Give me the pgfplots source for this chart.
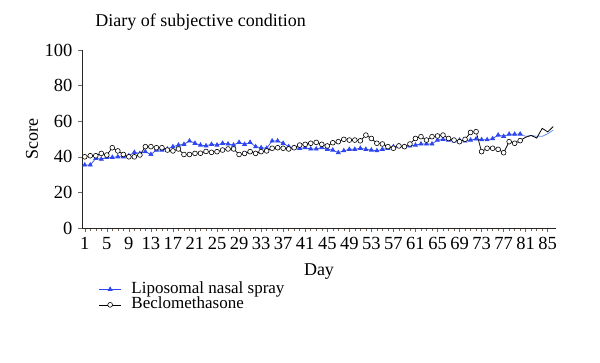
\documentclass[border=0pt]{standalone}
\usepackage{fontspec}
\setmainfont{Liberation Serif}
\usepackage{pgfplots}
\usepackage{pgfplotstable}
\pgfplotsset{compat=1.18}
\definecolor{lblue}{RGB}{45,70,240}
\definecolor{lblueline}{RGB}{100,140,235}
\definecolor{tickc}{RGB}{120,100,80}

\pgfplotstableread{
day val
1 35.4
2 35.4
3 39.1
4 38.7
5 39.7
6 39.7
7 40.0
8 40.0
9 40.6
10 42.5
11 41.9
12 42.9
13 41.3
14 43.8
15 43.8
16 44.4
17 45.7
18 46.6
19 47.0
20 48.9
21 47.6
22 46.6
23 46.2
24 47.0
25 46.6
26 47.6
27 47.2
28 46.6
29 48.1
30 47.0
31 48.1
32 45.7
33 45.1
34 44.8
35 48.9
36 48.9
37 47.6
38 45.7
39 45.1
40 44.8
41 45.1
42 44.4
43 44.4
44 45.2
45 44.2
46 43.8
47 42.3
48 43.4
49 44.2
50 44.2
51 44.8
52 44.2
53 43.8
54 43.4
55 44.2
56 44.8
57 45.7
58 46.1
59 45.7
60 46.1
61 46.6
62 47.2
63 47.2
64 47.2
65 49.4
66 49.8
67 49.4
68 48.9
69 49.4
70 48.9
71 49.4
72 50.0
73 49.6
74 49.6
75 50.2
76 52.2
77 51.5
78 52.7
79 52.7
80 52.8
}\lipo

\pgfplotstableread{
day val
80 52.8
81 51.5
82 52.0
83 51.5
84 51.5
85 53.0
86 55.0
}\lipoend

\pgfplotstableread{
day val
1 40.0
2 40.6
3 40.6
4 41.9
5 41.0
6 45.1
7 43.3
8 41.3
9 40.0
10 40.0
11 41.0
12 45.7
13 45.7
14 45.1
15 45.1
16 43.8
17 43.3
18 44.4
19 41.3
20 41.3
21 41.9
22 42.0
23 43.0
24 42.5
25 42.9
26 43.8
27 44.4
28 44.4
29 41.3
30 41.9
31 42.9
32 41.9
33 42.9
34 43.3
35 44.8
36 45.1
37 44.8
38 44.4
39 45.1
40 46.6
41 47.0
42 47.6
43 48.1
44 47.0
45 46.1
46 47.9
47 48.5
48 49.8
49 49.4
50 49.4
51 49.0
52 52.2
53 50.3
54 47.6
55 47.2
56 45.7
57 44.8
58 46.1
59 45.7
60 47.2
61 50.3
62 51.3
63 49.4
64 51.3
65 51.7
66 52.2
67 50.3
68 49.4
69 48.5
70 49.8
71 53.7
72 54.1
73 42.9
74 44.8
75 44.8
76 44.2
77 42.3
78 48.5
79 47.6
80 49.1
}\beclo

\pgfplotstableread{
day val
80 49.1
81 51.0
82 52.0
83 50.5
84 56.0
85 54.0
86 57.0
}\becloend

\begin{document}
\begin{tikzpicture}[x=1pt,y=1pt]
\path[use as bounding box] (0,0) rectangle (600,362);
\begin{axis}[
  at={(82pt,134pt)}, anchor=south west,
  scale only axis, width=474pt, height=178pt,
  xmin=0.5, xmax=86.5, ymin=0, ymax=100,
  axis x line=bottom, axis y line=left,
  axis line style={-, black!85, line width=0.6pt},
  xtick={1,5,...,85}, minor x tick num=3,
  ytick={0,20,...,100},
  tick align=outside,
  major tick length=4pt, minor tick length=3pt,
  every tick/.style={tickc, line width=0.5pt},
  /pgf/number format/assume math mode=true,
  tick label style={font=\fontsize{18.5}{20}\selectfont},
  yticklabel style={xshift=-2pt},
  xticklabel style={yshift=-2pt},
  title={Diary of subjective condition},
  title style={at={(axis description cs:0.021,1.096)}, anchor=base west, font=\fontsize{18}{20}\selectfont},
  xlabel={Day},
  xlabel style={at={(axis description cs:0.5,-0.242)}, anchor=center, font=\fontsize{18}{20}\selectfont},
  ylabel={Score},
  ylabel style={at={(axis description cs:-0.1055,0.5)}, anchor=center, rotate=0, font=\fontsize{18}{20}\selectfont},
  legend style={at={(axis description cs:0.035,-0.30)}, anchor=north west, draw=none, fill=none,
    font=\fontsize{17}{16}\selectfont, row sep=0pt, column sep=10pt, inner sep=0pt,
    nodes={inner sep=0pt, text height=11.5pt, text depth=4pt}},
  legend cell align=left,
  legend image code/.code={\draw[mark repeat=2,mark phase=2,#1] plot coordinates {(0pt,0pt) (11pt,0pt) (22pt,0pt)};},
]
\addplot[lblue, line width=0.7pt, mark=triangle*, mark size=2.3pt, mark options={fill=lblue, draw=lblue}] table[x=day,y=val] {\lipo};
\addlegendentry{Liposomal nasal spray}
\addplot[black, line width=0.7pt, mark=*, mark size=2.4pt, mark options={fill=white, draw=black, line width=0.6pt}] table[x=day,y=val] {\beclo};
\addlegendentry{Beclomethasone}
\addplot[lblueline, line width=0.8pt, forget plot] table[x=day,y=val] {\lipoend};
\addplot[black, line width=0.8pt, forget plot] table[x=day,y=val] {\becloend};
\end{axis}
\end{tikzpicture}
\end{document}
